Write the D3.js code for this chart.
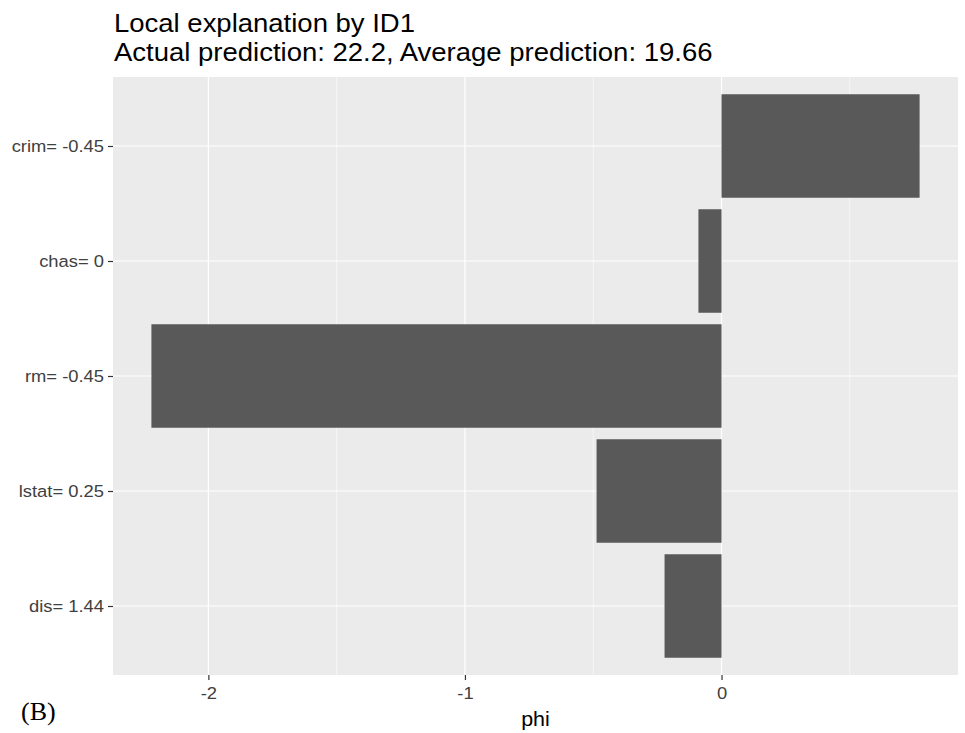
<!DOCTYPE html>
<html>
<head>
<meta charset="utf-8">
<script src="https://cdn.jsdelivr.net/npm/d3@7"></script>
<style>
  html, body { margin: 0; padding: 0; background: #fff; }
  svg { display: block; }
</style>
</head>
<body>
<svg id="chart" width="965" height="733"></svg>
<script>
// Feature contributions (phi) for observation ID1
const features = ["crim= -0.45", "chas= 0", "rm= -0.45", "lstat= 0.25", "dis= 1.44"];
const phi = [0.772, -0.09, -2.222, -0.487, -0.222];
const xTicks = [-2, -1, 0];
const xMinor = [-1.5, -0.5, 0.5];

const titleLines = ["Local explanation by ID1", "Actual prediction: 22.2, Average prediction: 19.66"];

const data = features.map((f, i) => ({ feature: f, phi: phi[i] }));

const SANS = "Liberation Sans, Arial, sans-serif";
const WIDEN = 1.1; // horizontal stretch applied to text

const svg = d3.select("#chart");
const margin = { left: 113, right: 7, top: 77, bottom: 58 };
const W = 965, H = 733;
const pw = W - margin.left - margin.right;
const ph = H - margin.top - margin.bottom;

// x domain with 5% expansion on each side
const ext = d3.extent(phi.concat([0]));
const pad = (ext[1] - ext[0]) * 0.05;
const x = d3.scaleLinear().domain([ext[0] - pad, ext[1] + pad]).range([0, pw]);

// discrete y with 0.6-unit expansion
const n = features.length;
const unit = ph / (n - 1 + 1.2);
const y = d3.scalePoint().domain(features).range([0.6 * unit, ph - 0.6 * unit]);
const barH = unit * 0.9;

const g = svg.append("g").attr("transform", `translate(${margin.left},${margin.top})`);

g.append("rect").attr("width", pw).attr("height", ph).attr("fill", "#EBEBEB");

// minor grid
g.selectAll(".minor").data(xMinor).enter().append("line")
  .attr("x1", d => x(d)).attr("x2", d => x(d)).attr("y1", 0).attr("y2", ph)
  .attr("stroke", "#fff").attr("stroke-width", 0.6);

// major grid
g.selectAll(".vmajor").data(xTicks).enter().append("line")
  .attr("x1", d => x(d)).attr("x2", d => x(d)).attr("y1", 0).attr("y2", ph)
  .attr("stroke", "#fff").attr("stroke-width", 1.2);
g.selectAll(".hmajor").data(features).enter().append("line")
  .attr("y1", d => y(d)).attr("y2", d => y(d)).attr("x1", 0).attr("x2", pw)
  .attr("stroke", "#fff").attr("stroke-width", 1.2);

// bars
g.selectAll(".bar").data(data).enter().append("rect")
  .attr("x", d => x(Math.min(0, d.phi)))
  .attr("width", d => Math.abs(x(d.phi) - x(0)))
  .attr("y", d => y(d.feature) - barH / 2)
  .attr("height", barH)
  .attr("fill", "#595959");

// stretch a text element horizontally about its own anchor point
function widen(sel) {
  sel.each(function () {
    const t = d3.select(this);
    const tx = +t.attr("x") || 0;
    const ty = +t.attr("y") || 0;
    t.attr("x", 0).attr("y", 0)
      .attr("transform", `translate(${tx},${ty}) scale(${WIDEN},1)`);
  });
}

// axes
const xAxis = d3.axisBottom(x).tickValues(xTicks).tickSize(5).tickPadding(7)
  .tickFormat(d => String(d));
const gx = g.append("g").attr("transform", `translate(0,${ph})`).call(xAxis);
gx.select(".domain").remove();
gx.selectAll("line").attr("stroke", "#333").attr("stroke-width", 1.2);
gx.selectAll("text").attr("fill", "#404040").attr("font-size", 16.7).attr("font-family", SANS).call(widen);

const yAxis = d3.axisLeft(y).tickSize(5).tickPadding(4);
const gy = g.append("g").call(yAxis);
gy.select(".domain").remove();
gy.selectAll("line").attr("stroke", "#333").attr("stroke-width", 1.2);
gy.selectAll("text").attr("fill", "#404040").attr("font-size", 16.7).attr("font-family", SANS).call(widen);

// axis title
svg.append("text").attr("x", margin.left + pw / 2).attr("y", 726)
  .attr("text-anchor", "middle").attr("font-size", 19.5)
  .attr("font-family", SANS).attr("fill", "#000").text("phi").call(widen);

// title
svg.selectAll(".title").data(titleLines).enter().append("text")
  .attr("x", margin.left + 1).attr("y", (d, i) => 32 + i * 29)
  .attr("font-size", 25).attr("font-family", SANS)
  .attr("fill", "#000").text(d => d).call(widen);

// panel tag
svg.append("text").attr("x", 21).attr("y", 720)
  .attr("font-size", 26).attr("font-family", "Liberation Serif, Times New Roman, serif")
  .attr("fill", "#000").text("(B)");
</script>
</body>
</html>
